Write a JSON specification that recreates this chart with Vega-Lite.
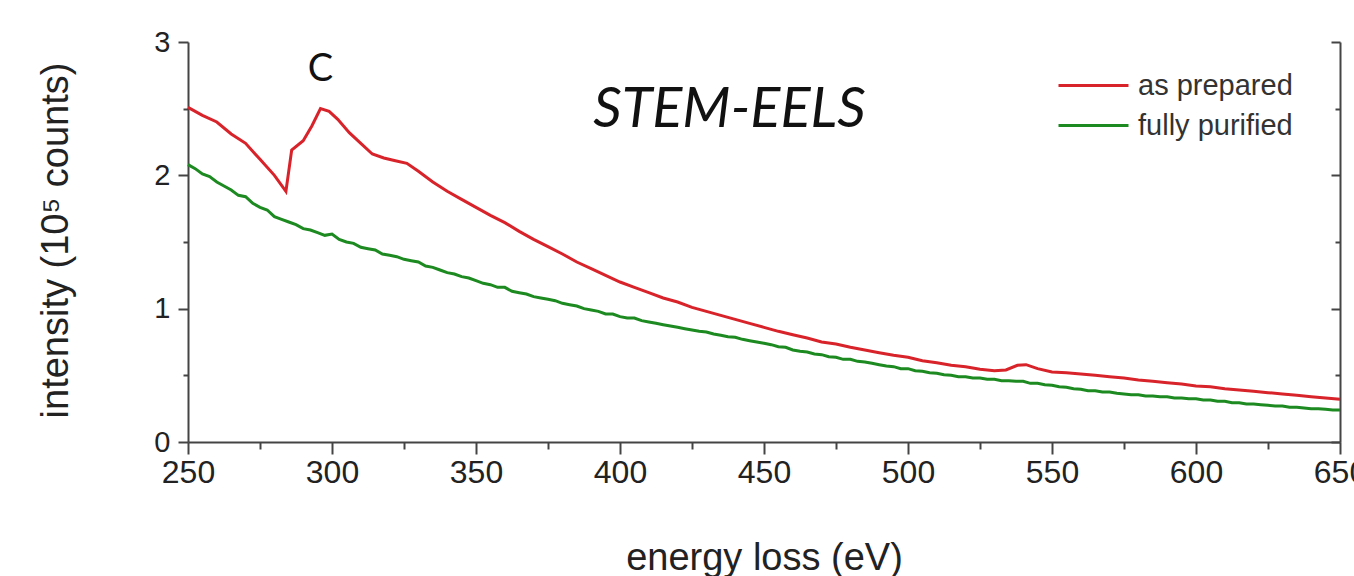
{
  "$schema": "https://vega.github.io/schema/vega-lite/v6.json",
  "width": 1152,
  "height": 400,
  "autosize": {"type": "none"},
  "padding": {"left": 188, "top": 42, "right": 14, "bottom": 134},
  "background": "white",
  "config": {
    "view": {"stroke": null},
    "font": "Liberation Sans",
    "axis": {"domainColor": "#444", "domainWidth": 2, "tickColor": "#444", "tickWidth": 2, "labelColor": "#222", "titleColor": "#222", "labelFont": "Liberation Sans", "titleFont": "Liberation Sans", "titleFontWeight": "normal", "grid": false, "labelOverlap": false}
  },
  "datasets": {
    "spectra": [
      {"series":"as prepared","energy":250,"intensity":2.51},
      {"series":"as prepared","energy":255,"intensity":2.45},
      {"series":"as prepared","energy":260,"intensity":2.40},
      {"series":"as prepared","energy":265,"intensity":2.31},
      {"series":"as prepared","energy":270,"intensity":2.24},
      {"series":"as prepared","energy":275,"intensity":2.12},
      {"series":"as prepared","energy":280,"intensity":2.00},
      {"series":"as prepared","energy":284,"intensity":1.88},
      {"series":"as prepared","energy":286,"intensity":2.19},
      {"series":"as prepared","energy":290,"intensity":2.26},
      {"series":"as prepared","energy":293,"intensity":2.37},
      {"series":"as prepared","energy":296,"intensity":2.50},
      {"series":"as prepared","energy":299,"intensity":2.48},
      {"series":"as prepared","energy":302,"intensity":2.42},
      {"series":"as prepared","energy":306,"intensity":2.32},
      {"series":"as prepared","energy":310,"intensity":2.24},
      {"series":"as prepared","energy":314,"intensity":2.16},
      {"series":"as prepared","energy":318,"intensity":2.13},
      {"series":"as prepared","energy":322,"intensity":2.11},
      {"series":"as prepared","energy":326,"intensity":2.09},
      {"series":"as prepared","energy":330,"intensity":2.03},
      {"series":"as prepared","energy":335,"intensity":1.95},
      {"series":"as prepared","energy":340,"intensity":1.88},
      {"series":"as prepared","energy":345,"intensity":1.82},
      {"series":"as prepared","energy":350,"intensity":1.76},
      {"series":"as prepared","energy":355,"intensity":1.70},
      {"series":"as prepared","energy":360,"intensity":1.645},
      {"series":"as prepared","energy":365,"intensity":1.58},
      {"series":"as prepared","energy":370,"intensity":1.52},
      {"series":"as prepared","energy":375,"intensity":1.465},
      {"series":"as prepared","energy":380,"intensity":1.41},
      {"series":"as prepared","energy":385,"intensity":1.35},
      {"series":"as prepared","energy":390,"intensity":1.30},
      {"series":"as prepared","energy":395,"intensity":1.25},
      {"series":"as prepared","energy":400,"intensity":1.20},
      {"series":"as prepared","energy":405,"intensity":1.16},
      {"series":"as prepared","energy":410,"intensity":1.12},
      {"series":"as prepared","energy":415,"intensity":1.08},
      {"series":"as prepared","energy":420,"intensity":1.05},
      {"series":"as prepared","energy":425,"intensity":1.01},
      {"series":"as prepared","energy":430,"intensity":0.98},
      {"series":"as prepared","energy":435,"intensity":0.95},
      {"series":"as prepared","energy":440,"intensity":0.92},
      {"series":"as prepared","energy":445,"intensity":0.89},
      {"series":"as prepared","energy":450,"intensity":0.86},
      {"series":"as prepared","energy":455,"intensity":0.83},
      {"series":"as prepared","energy":460,"intensity":0.805},
      {"series":"as prepared","energy":465,"intensity":0.78},
      {"series":"as prepared","energy":470,"intensity":0.75},
      {"series":"as prepared","energy":475,"intensity":0.735},
      {"series":"as prepared","energy":480,"intensity":0.71},
      {"series":"as prepared","energy":485,"intensity":0.69},
      {"series":"as prepared","energy":490,"intensity":0.67},
      {"series":"as prepared","energy":495,"intensity":0.65},
      {"series":"as prepared","energy":500,"intensity":0.635},
      {"series":"as prepared","energy":505,"intensity":0.61},
      {"series":"as prepared","energy":510,"intensity":0.595},
      {"series":"as prepared","energy":515,"intensity":0.575},
      {"series":"as prepared","energy":520,"intensity":0.565},
      {"series":"as prepared","energy":525,"intensity":0.545},
      {"series":"as prepared","energy":530,"intensity":0.535},
      {"series":"as prepared","energy":534,"intensity":0.54},
      {"series":"as prepared","energy":538,"intensity":0.575},
      {"series":"as prepared","energy":541,"intensity":0.58},
      {"series":"as prepared","energy":545,"intensity":0.55},
      {"series":"as prepared","energy":550,"intensity":0.525},
      {"series":"as prepared","energy":555,"intensity":0.52},
      {"series":"as prepared","energy":560,"intensity":0.51},
      {"series":"as prepared","energy":565,"intensity":0.50},
      {"series":"as prepared","energy":570,"intensity":0.49},
      {"series":"as prepared","energy":575,"intensity":0.48},
      {"series":"as prepared","energy":580,"intensity":0.465},
      {"series":"as prepared","energy":585,"intensity":0.455},
      {"series":"as prepared","energy":590,"intensity":0.445},
      {"series":"as prepared","energy":595,"intensity":0.435},
      {"series":"as prepared","energy":600,"intensity":0.42},
      {"series":"as prepared","energy":605,"intensity":0.415},
      {"series":"as prepared","energy":610,"intensity":0.40},
      {"series":"as prepared","energy":615,"intensity":0.39},
      {"series":"as prepared","energy":620,"intensity":0.38},
      {"series":"as prepared","energy":625,"intensity":0.37},
      {"series":"as prepared","energy":630,"intensity":0.36},
      {"series":"as prepared","energy":635,"intensity":0.35},
      {"series":"as prepared","energy":640,"intensity":0.34},
      {"series":"as prepared","energy":645,"intensity":0.33},
      {"series":"as prepared","energy":650,"intensity":0.32},
      {"series":"fully purified","energy":250,"intensity":2.08},
      {"series":"fully purified","energy":252.5,"intensity":2.05},
      {"series":"fully purified","energy":255,"intensity":2.01},
      {"series":"fully purified","energy":257.5,"intensity":1.99},
      {"series":"fully purified","energy":260,"intensity":1.95},
      {"series":"fully purified","energy":262.5,"intensity":1.92},
      {"series":"fully purified","energy":265,"intensity":1.89},
      {"series":"fully purified","energy":267.5,"intensity":1.85},
      {"series":"fully purified","energy":270,"intensity":1.84},
      {"series":"fully purified","energy":272.5,"intensity":1.79},
      {"series":"fully purified","energy":275,"intensity":1.76},
      {"series":"fully purified","energy":277.5,"intensity":1.74},
      {"series":"fully purified","energy":280,"intensity":1.69},
      {"series":"fully purified","energy":282.5,"intensity":1.67},
      {"series":"fully purified","energy":285,"intensity":1.65},
      {"series":"fully purified","energy":287.5,"intensity":1.63},
      {"series":"fully purified","energy":290,"intensity":1.60},
      {"series":"fully purified","energy":292.5,"intensity":1.59},
      {"series":"fully purified","energy":295,"intensity":1.57},
      {"series":"fully purified","energy":297.5,"intensity":1.55},
      {"series":"fully purified","energy":300,"intensity":1.56},
      {"series":"fully purified","energy":302.5,"intensity":1.52},
      {"series":"fully purified","energy":305,"intensity":1.50},
      {"series":"fully purified","energy":307.5,"intensity":1.49},
      {"series":"fully purified","energy":310,"intensity":1.46},
      {"series":"fully purified","energy":312.5,"intensity":1.45},
      {"series":"fully purified","energy":315,"intensity":1.44},
      {"series":"fully purified","energy":317.5,"intensity":1.41},
      {"series":"fully purified","energy":320,"intensity":1.40},
      {"series":"fully purified","energy":322.5,"intensity":1.39},
      {"series":"fully purified","energy":325,"intensity":1.37},
      {"series":"fully purified","energy":327.5,"intensity":1.36},
      {"series":"fully purified","energy":330,"intensity":1.35},
      {"series":"fully purified","energy":332.5,"intensity":1.32},
      {"series":"fully purified","energy":335,"intensity":1.31},
      {"series":"fully purified","energy":337.5,"intensity":1.29},
      {"series":"fully purified","energy":340,"intensity":1.27},
      {"series":"fully purified","energy":342.5,"intensity":1.26},
      {"series":"fully purified","energy":345,"intensity":1.24},
      {"series":"fully purified","energy":347.5,"intensity":1.23},
      {"series":"fully purified","energy":350,"intensity":1.21},
      {"series":"fully purified","energy":352.5,"intensity":1.19},
      {"series":"fully purified","energy":355,"intensity":1.18},
      {"series":"fully purified","energy":357.5,"intensity":1.16},
      {"series":"fully purified","energy":360,"intensity":1.16},
      {"series":"fully purified","energy":362.5,"intensity":1.13},
      {"series":"fully purified","energy":365,"intensity":1.12},
      {"series":"fully purified","energy":367.5,"intensity":1.11},
      {"series":"fully purified","energy":370,"intensity":1.09},
      {"series":"fully purified","energy":372.5,"intensity":1.08},
      {"series":"fully purified","energy":375,"intensity":1.07},
      {"series":"fully purified","energy":377.5,"intensity":1.06},
      {"series":"fully purified","energy":380,"intensity":1.04},
      {"series":"fully purified","energy":382.5,"intensity":1.03},
      {"series":"fully purified","energy":385,"intensity":1.02},
      {"series":"fully purified","energy":387.5,"intensity":1.00},
      {"series":"fully purified","energy":390,"intensity":0.99},
      {"series":"fully purified","energy":392.5,"intensity":0.98},
      {"series":"fully purified","energy":395,"intensity":0.96},
      {"series":"fully purified","energy":397.5,"intensity":0.96},
      {"series":"fully purified","energy":400,"intensity":0.94},
      {"series":"fully purified","energy":402.5,"intensity":0.93},
      {"series":"fully purified","energy":405,"intensity":0.93},
      {"series":"fully purified","energy":407.5,"intensity":0.91},
      {"series":"fully purified","energy":410,"intensity":0.90},
      {"series":"fully purified","energy":412.5,"intensity":0.89},
      {"series":"fully purified","energy":415,"intensity":0.88},
      {"series":"fully purified","energy":417.5,"intensity":0.87},
      {"series":"fully purified","energy":420,"intensity":0.86},
      {"series":"fully purified","energy":422.5,"intensity":0.85},
      {"series":"fully purified","energy":425,"intensity":0.84},
      {"series":"fully purified","energy":427.5,"intensity":0.83},
      {"series":"fully purified","energy":430,"intensity":0.825},
      {"series":"fully purified","energy":432.5,"intensity":0.81},
      {"series":"fully purified","energy":435,"intensity":0.80},
      {"series":"fully purified","energy":437.5,"intensity":0.79},
      {"series":"fully purified","energy":440,"intensity":0.785},
      {"series":"fully purified","energy":442.5,"intensity":0.77},
      {"series":"fully purified","energy":445,"intensity":0.76},
      {"series":"fully purified","energy":447.5,"intensity":0.75},
      {"series":"fully purified","energy":450,"intensity":0.74},
      {"series":"fully purified","energy":452.5,"intensity":0.73},
      {"series":"fully purified","energy":455,"intensity":0.715},
      {"series":"fully purified","energy":457.5,"intensity":0.71},
      {"series":"fully purified","energy":460,"intensity":0.69},
      {"series":"fully purified","energy":462.5,"intensity":0.68},
      {"series":"fully purified","energy":465,"intensity":0.675},
      {"series":"fully purified","energy":467.5,"intensity":0.66},
      {"series":"fully purified","energy":470,"intensity":0.655},
      {"series":"fully purified","energy":472.5,"intensity":0.64},
      {"series":"fully purified","energy":475,"intensity":0.635},
      {"series":"fully purified","energy":477.5,"intensity":0.62},
      {"series":"fully purified","energy":480,"intensity":0.62},
      {"series":"fully purified","energy":482.5,"intensity":0.605},
      {"series":"fully purified","energy":485,"intensity":0.60},
      {"series":"fully purified","energy":487.5,"intensity":0.59},
      {"series":"fully purified","energy":490,"intensity":0.58},
      {"series":"fully purified","energy":492.5,"intensity":0.57},
      {"series":"fully purified","energy":495,"intensity":0.565},
      {"series":"fully purified","energy":497.5,"intensity":0.55},
      {"series":"fully purified","energy":500,"intensity":0.55},
      {"series":"fully purified","energy":502.5,"intensity":0.535},
      {"series":"fully purified","energy":505,"intensity":0.53},
      {"series":"fully purified","energy":507.5,"intensity":0.52},
      {"series":"fully purified","energy":510,"intensity":0.515},
      {"series":"fully purified","energy":512.5,"intensity":0.505},
      {"series":"fully purified","energy":515,"intensity":0.50},
      {"series":"fully purified","energy":517.5,"intensity":0.49},
      {"series":"fully purified","energy":520,"intensity":0.49},
      {"series":"fully purified","energy":522.5,"intensity":0.48},
      {"series":"fully purified","energy":525,"intensity":0.48},
      {"series":"fully purified","energy":527.5,"intensity":0.47},
      {"series":"fully purified","energy":530,"intensity":0.47},
      {"series":"fully purified","energy":532.5,"intensity":0.46},
      {"series":"fully purified","energy":535,"intensity":0.46},
      {"series":"fully purified","energy":537.5,"intensity":0.455},
      {"series":"fully purified","energy":540,"intensity":0.455},
      {"series":"fully purified","energy":542.5,"intensity":0.44},
      {"series":"fully purified","energy":545,"intensity":0.44},
      {"series":"fully purified","energy":547.5,"intensity":0.43},
      {"series":"fully purified","energy":550,"intensity":0.425},
      {"series":"fully purified","energy":552.5,"intensity":0.415},
      {"series":"fully purified","energy":555,"intensity":0.41},
      {"series":"fully purified","energy":557.5,"intensity":0.40},
      {"series":"fully purified","energy":560,"intensity":0.395},
      {"series":"fully purified","energy":562.5,"intensity":0.385},
      {"series":"fully purified","energy":565,"intensity":0.385},
      {"series":"fully purified","energy":567.5,"intensity":0.375},
      {"series":"fully purified","energy":570,"intensity":0.375},
      {"series":"fully purified","energy":572.5,"intensity":0.365},
      {"series":"fully purified","energy":575,"intensity":0.36},
      {"series":"fully purified","energy":577.5,"intensity":0.355},
      {"series":"fully purified","energy":580,"intensity":0.355},
      {"series":"fully purified","energy":582.5,"intensity":0.345},
      {"series":"fully purified","energy":585,"intensity":0.345},
      {"series":"fully purified","energy":587.5,"intensity":0.34},
      {"series":"fully purified","energy":590,"intensity":0.34},
      {"series":"fully purified","energy":592.5,"intensity":0.33},
      {"series":"fully purified","energy":595,"intensity":0.33},
      {"series":"fully purified","energy":597.5,"intensity":0.325},
      {"series":"fully purified","energy":600,"intensity":0.325},
      {"series":"fully purified","energy":602.5,"intensity":0.315},
      {"series":"fully purified","energy":605,"intensity":0.315},
      {"series":"fully purified","energy":607.5,"intensity":0.305},
      {"series":"fully purified","energy":610,"intensity":0.305},
      {"series":"fully purified","energy":612.5,"intensity":0.295},
      {"series":"fully purified","energy":615,"intensity":0.295},
      {"series":"fully purified","energy":617.5,"intensity":0.285},
      {"series":"fully purified","energy":620,"intensity":0.285},
      {"series":"fully purified","energy":622.5,"intensity":0.28},
      {"series":"fully purified","energy":625,"intensity":0.275},
      {"series":"fully purified","energy":627.5,"intensity":0.27},
      {"series":"fully purified","energy":630,"intensity":0.27},
      {"series":"fully purified","energy":632.5,"intensity":0.26},
      {"series":"fully purified","energy":635,"intensity":0.26},
      {"series":"fully purified","energy":637.5,"intensity":0.255},
      {"series":"fully purified","energy":640,"intensity":0.25},
      {"series":"fully purified","energy":642.5,"intensity":0.25},
      {"series":"fully purified","energy":645,"intensity":0.245},
      {"series":"fully purified","energy":647.5,"intensity":0.24},
      {"series":"fully purified","energy":650,"intensity":0.24}
    ],
    "notes": [
      {"label":"C","energy":296,"intensity":2.79,"kind":"edge"},
      {"label":"STEM-EELS","energy":438,"intensity":2.49,"kind":"title"}
    ]
  },
  "layer": [
    {
      "data": {"name": "spectra"},
      "mark": {"type": "line", "strokeWidth": 3, "interpolate": "linear"},
      "encoding": {
        "x": {"field": "energy", "type": "quantitative", "scale": {"domain": [250, 650], "nice": false, "zero": false},
          "axis": {"title": "energy loss (eV)", "values": [250,275,300,325,350,375,400,425,450,475,500,525,550,575,600,625,650],
            "labelExpr": "datum.value % 50 === 0 ? format(datum.value, 'd') : ''",
            "tickSize": {"condition": {"test": "datum.value % 50 === 0", "value": 12}, "value": 7},
            "labelFontSize": 32, "labelPadding": 3, "labelFlush": false,
            "titleFontSize": 38, "titleBaseline": "alphabetic", "titleY": 127}},
        "y": {"field": "intensity", "type": "quantitative", "scale": {"domain": [0, 3], "nice": false, "zero": false},
          "axis": {"orient": "left", "title": "intensity (10⁵ counts)", "values": [0,0.5,1,1.5,2,2.5,3],
            "labelExpr": "datum.value % 1 === 0 ? format(datum.value, 'd') : ''",
            "tickSize": {"condition": {"test": "datum.value % 1 === 0", "value": 10}, "value": 5},
            "labelFontSize": 29, "labelPadding": 8,
            "titleFontSize": 38, "titleAngle": -90, "titleBaseline": "alphabetic", "titleX": -121, "titleY": 198, "titleAlign": "center"}},
        "color": {"field": "series", "type": "nominal",
          "scale": {"domain": ["as prepared", "fully purified"], "range": ["#d8232a", "#1c8a20"]},
          "legend": {"title": null, "orient": "none", "legendX": 916, "legendY": 29, "padding": 0,
            "symbolType": "M-6,0H1", "symbolSize": 400, "symbolStrokeWidth": 3, "symbolFillColor": "transparent",
            "labelFontSize": 29, "labelFont": "Liberation Sans", "labelColor": "#333", "labelOffset": 5, "labelLimit": 400, "rowPadding": 10}}
      }
    },
    {
      "data": {"name": "notes"},
      "transform": [{"filter": "datum.kind === 'edge'"}],
      "mark": {"type": "text", "font": "Lato", "fontSize": 38, "color": "#111", "align": "center", "baseline": "middle"},
      "encoding": {
        "x": {"field": "energy", "type": "quantitative"},
        "y": {"field": "intensity", "type": "quantitative", "scale": {"domain": [0, 3], "nice": false, "zero": false}, "axis": null},
        "text": {"field": "label"}
      }
    },
    {
      "data": {"name": "notes"},
      "transform": [{"filter": "datum.kind === 'title'"}],
      "mark": {"type": "text", "font": "Lato", "fontStyle": "italic", "fontSize": 56, "color": "#111", "align": "center", "baseline": "middle"},
      "encoding": {
        "x": {"field": "energy", "type": "quantitative"},
        "y": {"field": "intensity", "type": "quantitative", "scale": {"domain": [0, 3], "nice": false, "zero": false}, "axis": null},
        "text": {"field": "label"}
      }
    },
    {
      "data": {"name": "spectra"},
      "mark": {"type": "line", "strokeOpacity": 0},
      "encoding": {
        "x": {"field": "energy", "type": "quantitative"},
        "y": {"field": "intensity", "type": "quantitative", "scale": {"domain": [0, 3], "nice": false, "zero": false},
          "axis": {"orient": "right", "title": null, "values": [0,0.5,1,1.5,2,2.5,3], "labels": false,
            "tickSize": {"condition": {"test": "datum.value % 1 === 0", "value": -9}, "value": -5}}},
        "detail": {"field": "series"}
      }
    }
  ],
  "resolve": {"scale": {"y": "independent"}}
}
